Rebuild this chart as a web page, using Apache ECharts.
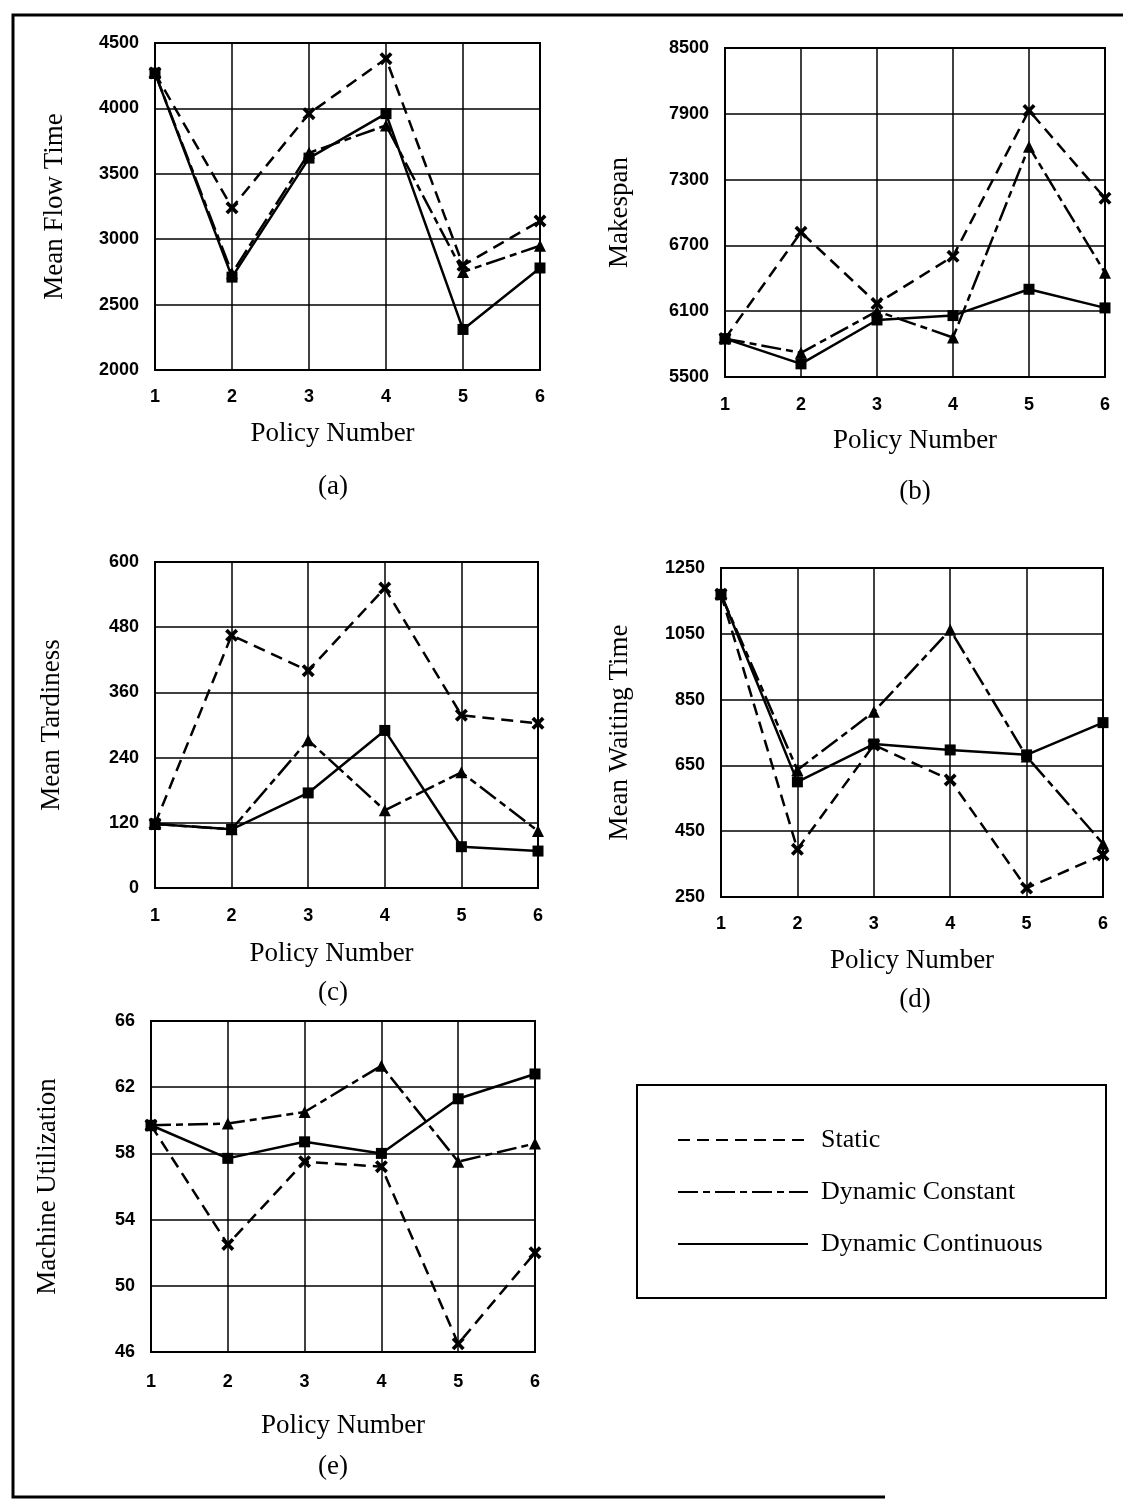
<!DOCTYPE html>
<html>
<head>
<meta charset="utf-8">
<title>Policy comparison</title>
<script src="https://cdn.jsdelivr.net/npm/echarts@6/dist/echarts.min.js"></script>
<style>
  html, body { margin: 0; padding: 0; background: #fff; }
  #main { width: 1123px; height: 1505px; }
</style>
</head>
<body>
<div id="main"></div>
<script>
// x categories
const policies = ['1', '2', '3', '4', '5', '6'];
const seriesNames = ['Static', 'Dynamic Constant', 'Dynamic Continuous'];

// (a) mean flow time
const flowStatic = [4270, 3240, 3960, 4380, 2800, 3140];
const flowConstant = [4270, 2740, 3660, 3870, 2750, 2950];
const flowContinuous = [4270, 2710, 3620, 3960, 2310, 2780];

// (b) makespan
const makespanStatic = [5850, 6820, 6170, 6600, 7930, 7130];
const makespanConstant = [5850, 5720, 6100, 5860, 7600, 6450];
const makespanContinuous = [5850, 5620, 6020, 6060, 6300, 6130];

// (c) mean tardiness
const tardinessStatic = [118, 465, 400, 552, 318, 303];
const tardinessConstant = [118, 108, 272, 143, 213, 105];
const tardinessContinuous = [118, 108, 175, 290, 76, 68];

// (d) mean waiting time
const waitingStatic = [1170, 395, 712, 606, 277, 378];
const waitingConstant = [1170, 636, 813, 1062, 677, 412];
const waitingContinuous = [1170, 600, 715, 697, 682, 780];

// (e) machine utilization
const utilStatic = [59.7, 52.5, 57.5, 57.2, 46.5, 52.0];
const utilConstant = [59.7, 59.8, 60.5, 63.3, 57.5, 58.6];
const utilContinuous = [59.7, 57.7, 58.7, 58.0, 61.3, 62.8];

// y axis setup per panel
const yNames = ['Mean Flow Time', 'Makespan', 'Mean Tardiness', 'Mean Waiting Time', 'Machine Utilization'];
const yMins = [2000, 5500, 0, 250, 46];
const yMaxs = [4500, 8500, 600, 1250, 66];
const yIntervals = [500, 600, 120, 200, 4];
const panelLabels = ['(a)', '(b)', '(c)', '(d)', '(e)'];

const panelData = [
  [flowStatic, flowConstant, flowContinuous],
  [makespanStatic, makespanConstant, makespanContinuous],
  [tardinessStatic, tardinessConstant, tardinessContinuous],
  [waitingStatic, waitingConstant, waitingContinuous],
  [utilStatic, utilConstant, utilContinuous]
];

const serif = '"Liberation Serif", "Times New Roman", serif';
const sans = '"Liberation Sans", Arial, sans-serif';

// layout of the five plots
const grids = [
  { left: 155, top: 43, width: 385, height: 327 },
  { left: 725, top: 48, width: 380, height: 329 },
  { left: 155, top: 562, width: 383, height: 326 },
  { left: 721, top: 568, width: 382, height: 329 },
  { left: 151, top: 1021, width: 384, height: 331 }
];
const yNameGaps = [87, 92, 90, 88, 90];
const xNameGaps = [50, 50, 52, 50, 60];
const xNameShift = [30, 0, 30, 0, 0]; // "Policy Number" sits a bit left of centre in (a), (c)
const xLabelMargins = [18, 19, 19, 18, 21];
const labelPos = [[333, 473], [915, 478], [333, 979], [915, 986], [333, 1453]];

const crossPath = 'path://M2,0 L5,3 L8,0 L10,2 L7,5 L10,8 L8,10 L5,7 L2,10 L0,8 L3,5 L0,2 Z';
const symbols = [crossPath, 'triangle', 'rect'];
const symbolSizes = [13, 12, 11];
const dashes = [[12, 7], [20, 5, 7, 5], 'solid'];

const chartDom = document.getElementById('main');
const myChart = echarts.init(chartDom);

const xAxis = [];
const yAxis = [];
const series = [];

grids.forEach((g, i) => {
  xAxis.push({
    gridIndex: i,
    type: 'category',
    data: policies,
    boundaryGap: false,
    name: 'Policy Number',
    nameLocation: 'middle',
    nameGap: xNameGaps[i],
    nameTextStyle: { fontFamily: serif, fontSize: 27, color: '#000', padding: [0, xNameShift[i], 0, 0] },
    axisLine: { lineStyle: { color: '#000', width: 2 } },
    axisTick: { show: false },
    axisLabel: { color: '#000', fontFamily: sans, fontWeight: 'bold', fontSize: 18, margin: xLabelMargins[i] },
    splitLine: { show: true, lineStyle: { color: '#000', width: 1.5 } }
  });
  yAxis.push({
    gridIndex: i,
    type: 'value',
    min: yMins[i],
    max: yMaxs[i],
    interval: yIntervals[i],
    name: yNames[i],
    nameLocation: 'middle',
    nameGap: yNameGaps[i],
    nameTextStyle: { fontFamily: serif, fontSize: 27, color: '#000' },
    axisLine: { show: true, lineStyle: { color: '#000', width: 2 } },
    axisTick: { show: false },
    axisLabel: {
      color: '#000', fontFamily: sans, fontWeight: 'bold', fontSize: 18, margin: 16,
      formatter: v => String(v)
    },
    splitLine: { show: true, lineStyle: { color: '#000', width: 1.5 } }
  });
  panelData[i].forEach((vals, k) => {
    series.push({
      name: seriesNames[k],
      type: 'line',
      xAxisIndex: i,
      yAxisIndex: i,
      data: vals,
      symbol: symbols[k],
      symbolSize: symbolSizes[k],
      showAllSymbol: true,
      itemStyle: { color: '#000' },
      lineStyle: { color: '#000', width: 2.5, type: dashes[k] },
      z: 3 + k
    });
  });
});

const option = {
  animation: false,
  backgroundColor: '#fff',
  grid: grids.map(g => Object.assign({ show: true, borderColor: '#000', borderWidth: 2, backgroundColor: 'transparent' }, g)),
  xAxis: xAxis,
  yAxis: yAxis,
  title: panelLabels.map((t, i) => ({
    text: t,
    left: labelPos[i][0],
    top: labelPos[i][1],
    textAlign: 'center',
    padding: 0,
    textStyle: { fontFamily: serif, fontSize: 27, fontWeight: 'normal', color: '#000' }
  })),
  legend: {
    orient: 'vertical',
    left: 677,
    top: 1125,
    padding: 0,
    itemWidth: 130,
    itemHeight: 14,
    itemGap: 22,
    data: seriesNames,
    itemStyle: { opacity: 0 },
    textStyle: { fontFamily: serif, fontSize: 26, color: '#000', padding: [0, 0, 0, 8], lineHeight: 30 }
  },
  graphic: [
    // legend box
    { type: 'rect', shape: { x: 637, y: 1085, width: 469, height: 213 }, style: { fill: 'none', stroke: '#000', lineWidth: 2 } },
    // page frame
    { type: 'polyline', shape: { points: [[1123, 15], [13, 15], [13, 1497], [885, 1497]] }, style: { fill: 'none', stroke: '#000', lineWidth: 3 } }
  ],
  series: series
};

option && myChart.setOption(option);
</script>
</body>
</html>
